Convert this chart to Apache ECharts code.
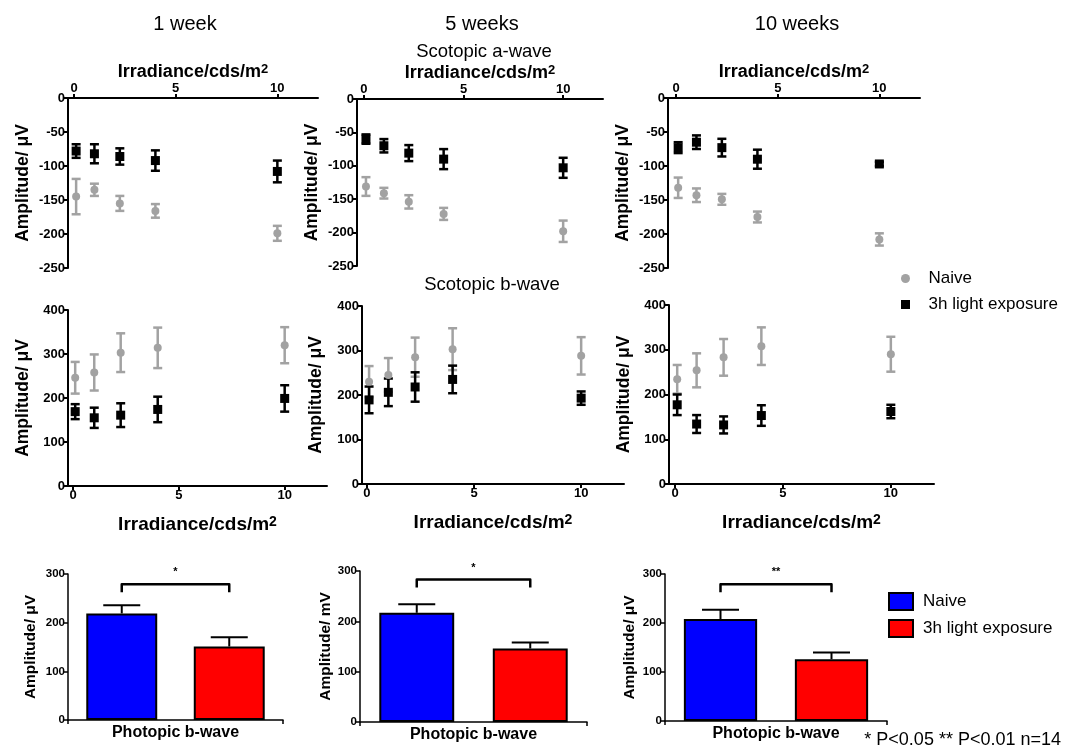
<!DOCTYPE html>
<html><head><meta charset="utf-8">
<script src="https://cdn.jsdelivr.net/npm/echarts@6/dist/echarts.min.js"></script>
<style>html,body{margin:0;padding:0;background:#fff}#c{width:1065px;height:752px}</style>
</head><body><div id="c"></div><script>
// ---------- DATA ----------
const irradiance = [0.1, 1, 2.25, 4, 10];
const xTicks = [0, 5, 10];
// Scotopic a-wave (µV), mean and SEM
const aNaive1w = [-145, -135, -155, -166, -199];
const aNaive1wErr = [26, 9, 11, 10, 11];
const aExp1w = [-78, -82, -86, -92, -108];
const aExp1wErr = [10, 14, 12, 15, 16];
const aNaive5w = [-131, -141, -154, -172, -198];
const aNaive5wErr = [14, 8, 10, 9, 16];
const aExp5w = [-60, -70, -81, -90, -103];
const aExp5wErr = [7, 10, 12, 15, 15];
const aNaive10w = [-132, -143, -149, -175, -208];
const aNaive10wErr = [15, 10, 8, 8, 9];
const aExp10w = [-73, -65, -73, -90, -97];
const aExp10wErr = [8, 10, 13, 14, 3];
// Scotopic b-wave (µV)
const bNaive1w = [246, 258, 303, 314, 320];
const bNaive1wErr = [36, 41, 44, 46, 41];
const bExp1w = [169, 155, 161, 174, 199];
const bExp1wErr = [17, 23, 27, 29, 30];
const bNaive5w = [230, 245, 285, 303, 288];
const bNaive5wErr = [35, 38, 44, 47, 42];
const bExp5w = [189, 206, 218, 235, 193];
const bExp5wErr = [30, 31, 33, 31, 15];
const bNaive10w = [234, 254, 283, 308, 290];
const bNaive10wErr = [32, 38, 41, 42, 39];
const bExp10w = [177, 134, 132, 153, 162];
const bExp10wErr = [23, 20, 19, 23, 15];
// Photopic b-wave (1, 5, 10 weeks)
const photoNaive = [219, 217, 208];
const photoNaiveErr = [17, 17, 19];
const photoExp = [151, 146, 126];
const photoExpErr = [19, 12, 14];
const bracketLevel = [279, 283, 279];
const bracketFrom = [0.1, 0, 0.07];
const bracketTo = [1, 0.97, 0.92];
const sigLabels = ['*', '*', '**'];
const photoYNames = ['Amplitude/ \u03bcV', 'Amplitude/ mV', 'Amplitude/ \u03bcV'];
const groupNames = ['Naive', '3h light exposure'];
const weekTitles = ['1 week', '5 weeks', '10 weeks'];

// ---------- LAYOUT ----------
const FONT = "'Liberation Sans', Arial, sans-serif";
const GREY = '#a2a2a2';
const scatterGrids = [
  {left:68, top:98, width:250, height:170, xmin:-0.3, yNameGap:36},
  {left:357, top:99, width:246, height:167, xmin:-0.35, yNameGap:36},
  {left:668, top:98, width:252, height:170, xmin:-0.4, yNameGap:36},
  {left:68, top:310, width:259, height:176, xmin:-0.24, yNameGap:36},
  {left:362, top:306, width:262, height:178, xmin:-0.23, yNameGap:37},
  {left:669, top:305, width:265, height:179, xmin:-0.28, yNameGap:36}
];
const barGrids = [
  {left:68, top:574, width:215, height:146, yNameGap:29},
  {left:360, top:571, width:227, height:151, yNameGap:26},
  {left:665, top:574, width:222, height:147, yNameGap:27}
];
const scatterData = [
  [aNaive1w, aNaive1wErr, aExp1w, aExp1wErr],
  [aNaive5w, aNaive5wErr, aExp5w, aExp5wErr],
  [aNaive10w, aNaive10wErr, aExp10w, aExp10wErr],
  [bNaive1w, bNaive1wErr, bExp1w, bExp1wErr],
  [bNaive5w, bNaive5wErr, bExp5w, bExp5wErr],
  [bNaive10w, bNaive10wErr, bExp10w, bExp10wErr]
];

function errRender(capW, lw) {
  return function (params, api) {
    const x = api.value(0), y = api.value(1), e = api.value(2);
    const t = api.coord([x, y + e]), b = api.coord([x, y - e]);
    const style = {stroke: api.visual('color'), lineWidth: lw};
    return {type:'group', children:[
      {type:'line', shape:{x1:t[0], y1:t[1], x2:b[0], y2:b[1]}, style},
      {type:'line', shape:{x1:t[0]-capW/2, y1:t[1], x2:t[0]+capW/2, y2:t[1]}, style},
      {type:'line', shape:{x1:b[0]-capW/2, y1:b[1], x2:b[0]+capW/2, y2:b[1]}, style}
    ]};
  };
}
function upErrRender(capW, lw) {
  return function (params, api) {
    const x = api.value(0), y = api.value(1), e = api.value(2);
    const t = api.coord([x, y + e]), b = api.coord([x, y]);
    const style = {stroke: '#000', lineWidth: lw};
    return {type:'group', children:[
      {type:'line', shape:{x1:t[0], y1:t[1], x2:b[0], y2:b[1]}, style},
      {type:'line', shape:{x1:t[0]-capW/2, y1:t[1], x2:t[0]+capW/2, y2:t[1]}, style}
    ]};
  };
}

const grids = [], xAxes = [], yAxes = [], series = [];
const axisLineStyle = {color:'#000', width:2};
function supStyle(size, subSize) {
  return {
    fontSize:size, fontWeight:'bold', color:'#000', fontFamily:FONT,
    rich:{s:{fontSize:subSize, fontWeight:'bold', color:'#000', fontFamily:FONT, verticalAlign:'top'}}
  };
}

scatterGrids.forEach((g, i) => {
  grids.push({left:g.left, top:g.top, width:g.width, height:g.height});
  const isTop = i < 3;
  xAxes.push({
    type:'value', gridIndex:i, position: isTop ? 'top' : 'bottom', min:g.xmin, max:12,
    axisLine:{onZero:false, lineStyle:axisLineStyle},
    axisTick:{customValues:xTicks, length:4, lineStyle:{width:2, color:'#000'}},
    axisLabel:{customValues:xTicks, color:'#000', fontWeight:'bold', fontSize:13, fontFamily:FONT, margin:3},
    splitLine:{show:false},
    name:'Irradiance/cds/m{s|2}', nameLocation:'middle', nameGap: isTop ? 17 : 29,
    nameTextStyle: isTop ? supStyle(18, 13) : supStyle(19, 14)
  });
  yAxes.push({
    type:'value', gridIndex:i, min: isTop ? -250 : 0, max: isTop ? 0 : 400, interval: isTop ? 50 : 100,
    axisLine:{show:true, onZero:false, lineStyle:axisLineStyle},
    axisTick:{show:true, length:4, lineStyle:{width:2, color:'#000'}},
    axisLabel:{color:'#000', fontWeight:'bold', fontSize:13, fontFamily:FONT, margin:3},
    splitLine:{show:false},
    name:'Amplitude/ \u03bcV', nameLocation:'middle', nameGap:g.yNameGap,
    nameTextStyle:{fontSize:17.5, fontWeight:'bold', color:'#000', fontFamily:FONT}
  });
  const [nv, ne, ev, ee] = scatterData[i];
  series.push({
    type:'custom', xAxisIndex:i, yAxisIndex:i, z:2, clip:false,
    itemStyle:{color:GREY}, renderItem: errRender(9, 2.5),
    data: irradiance.map((x, k) => [x, nv[k], ne[k]])
  });
  series.push({
    type:'custom', xAxisIndex:i, yAxisIndex:i, z:2, clip:false,
    itemStyle:{color:'#000'}, renderItem: errRender(9, 2.5),
    data: irradiance.map((x, k) => [x, ev[k], ee[k]])
  });
  series.push({
    type:'scatter', name:groupNames[0], xAxisIndex:i, yAxisIndex:i, z:3,
    symbol:'circle', symbolSize:8, itemStyle:{color:GREY, opacity:1},
    data: irradiance.map((x, k) => [x, nv[k]])
  });
  series.push({
    type:'scatter', name:groupNames[1], xAxisIndex:i, yAxisIndex:i, z:3,
    symbol:'rect', symbolSize:9, itemStyle:{color:'#000', opacity:1},
    data: irradiance.map((x, k) => [x, ev[k]])
  });
});

barGrids.forEach((g, j) => {
  const i = 6 + j;
  grids.push({left:g.left, top:g.top, width:g.width, height:g.height});
  xAxes.push({
    type:'category', gridIndex:i, data:groupNames,
    axisLine:{lineStyle:{color:'#000', width:1.5}},
    axisTick:{show:true, length:4, lineStyle:{color:'#000', width:1.5}},
    axisLabel:{show:false},
    name:'Photopic b-wave', nameLocation:'middle', nameGap:5,
    nameTextStyle:{fontSize:16, fontWeight:'bold', color:'#000', fontFamily:FONT, verticalAlign:'top'}
  });
  yAxes.push({
    type:'value', gridIndex:i, min:0, max:300, interval:100,
    axisLine:{show:true, lineStyle:{color:'#000', width:1.5}},
    axisTick:{show:true, length:4, lineStyle:{color:'#000', width:1.5}},
    axisLabel:{color:'#000', fontWeight:'bold', fontSize:11.5, fontFamily:FONT, margin:3},
    splitLine:{show:false},
    name:photoYNames[j], nameLocation:'middle', nameGap:g.yNameGap,
    nameTextStyle:{fontSize:15.5, fontWeight:'bold', color:'#000', fontFamily:FONT}
  });
  series.push({
    type:'bar', name:'pNaive', xAxisIndex:i, yAxisIndex:i, barWidth:'66%', barGap:'-100%',
    itemStyle:{color:'#0000ff', borderColor:'#000', borderWidth:2},
    data:[photoNaive[j], '-']
  });
  series.push({
    type:'bar', name:'pExp', xAxisIndex:i, yAxisIndex:i, barWidth:'66%', barGap:'-100%',
    itemStyle:{color:'#ff0000', borderColor:'#000', borderWidth:2},
    data:['-', photoExp[j]]
  });
  series.push({
    type:'custom', xAxisIndex:i, yAxisIndex:i, z:1, clip:false,
    renderItem: upErrRender(37, 2),
    data:[[0, photoNaive[j], photoNaiveErr[j]], [1, photoExp[j], photoExpErr[j]]]
  });
  const lbl = sigLabels[j];
  series.push({
    type:'custom', xAxisIndex:i, yAxisIndex:i, z:3, clip:false,
    renderItem: function (params, api) {
      const v = api.value(2);
      const p0 = api.coord([api.value(0), v]), p1 = api.coord([api.value(1), v]);
      return {type:'group', children:[
        {type:'polyline', shape:{points:[[p0[0], p0[1]+8],[p0[0], p0[1]],[p1[0], p1[1]],[p1[0], p1[1]+8]]},
         style:{stroke:'#000', lineWidth:2.5, fill:null, lineJoin:'round'}},
        {type:'text', style:{text:lbl, x:(p0[0]+p1[0])/2, y:p0[1]-12, align:'center', verticalAlign:'middle',
          font:"bold 11px " + FONT, fill:'#000'}}
      ]};
    },
    data:[[bracketFrom[j], bracketTo[j], bracketLevel[j]]]
  });
});

const option = {
  animation:false,
  backgroundColor:'#fff',
  textStyle:{fontFamily:FONT},
  grid:grids, xAxis:xAxes, yAxis:yAxes, series,
  legend:[
    {
      orient:'vertical', left:896, top:265, itemWidth:36, itemHeight:9, itemGap:9, selectedMode:false,
      textStyle:{fontSize:17, color:'#000', fontFamily:FONT},
      data:[{name:groupNames[0], icon:'circle'}, {name:groupNames[1], icon:'path://M0,0H10V10H0Z'}]
    },
    {
      orient:'vertical', left:883, top:587, itemWidth:24, itemHeight:17, itemGap:8, selectedMode:false,
      textStyle:{fontSize:17, color:'#000', fontFamily:FONT, padding:[0,0,0,5]},
      formatter: n => n === 'pNaive' ? groupNames[0] : groupNames[1],
      data:[{name:'pNaive', icon:'rect'}, {name:'pExp', icon:'rect'}]
    }
  ],
  graphic:[
    {type:'text', x:185, y:24, style:{text:weekTitles[0], font:'20px ' + FONT, fill:'#000', align:'center', verticalAlign:'middle'}},
    {type:'text', x:482, y:24, style:{text:weekTitles[1], font:'20px ' + FONT, fill:'#000', align:'center', verticalAlign:'middle'}},
    {type:'text', x:797, y:24, style:{text:weekTitles[2], font:'20px ' + FONT, fill:'#000', align:'center', verticalAlign:'middle'}},
    {type:'text', x:484, y:52, style:{text:'Scotopic a-wave', font:'18.5px ' + FONT, fill:'#000', align:'center', verticalAlign:'middle'}},
    {type:'text', x:492, y:285, style:{text:'Scotopic b-wave', font:'18.5px ' + FONT, fill:'#000', align:'center', verticalAlign:'middle'}},
    {type:'text', x:1061, y:740, style:{text:'* P<0.05 ** P<0.01 n=14', font:'18px ' + FONT, fill:'#000', align:'right', verticalAlign:'middle'}}
  ]
};
const chart = echarts.init(document.getElementById('c'));
chart.setOption(option);
</script></body></html>
